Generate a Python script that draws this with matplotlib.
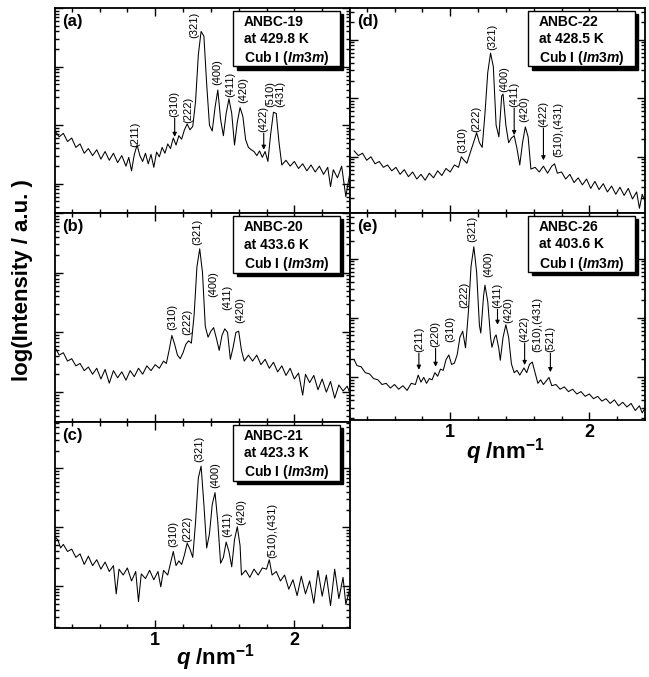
#!/usr/bin/env python

import numpy as np
import matplotlib
matplotlib.use('Agg')
import matplotlib.pyplot as plt
from matplotlib.patches import Rectangle

plt.rcParams['font.family'] = ['Liberation Sans', 'DejaVu Sans']
plt.rcParams['mathtext.fontset'] = 'custom'
plt.rcParams['mathtext.rm'] = 'Liberation Sans:bold'
plt.rcParams['mathtext.bf'] = 'Liberation Sans:bold'
plt.rcParams['mathtext.it'] = 'Liberation Sans:italic:bold'

q_a = [0.28, 0.31, 0.34, 0.37, 0.40, 0.43, 0.46, 0.49, 0.52, 0.55, 0.58, 0.61, 0.64, 0.67, 0.70,
       0.73, 0.76, 0.79, 0.81, 0.83, 0.85, 0.87, 0.89, 0.91, 0.93, 0.95, 0.97, 0.99, 1.01, 1.03,
       1.05, 1.07, 1.09, 1.11, 1.13, 1.15, 1.17, 1.19, 1.21, 1.23, 1.25, 1.27, 1.29, 1.31, 1.33,
       1.35, 1.37, 1.39, 1.41, 1.43, 1.45, 1.47, 1.49, 1.51, 1.53, 1.55, 1.57, 1.59, 1.61, 1.63,
       1.65, 1.67, 1.69, 1.71, 1.73, 1.75, 1.77, 1.79, 1.81, 1.83, 1.85, 1.87, 1.89, 1.91, 1.94,
       1.97, 2.00, 2.03, 2.06, 2.09, 2.12, 2.15, 2.18, 2.21, 2.24, 2.26, 2.28, 2.31, 2.34, 2.37, 2.40]
logI_a = [1.90, 1.80, 1.86, 1.72, 1.78, 1.62, 1.68, 1.52, 1.60, 1.48, 1.58, 1.42, 1.55, 1.40, 1.52,
          1.36, 1.48, 1.30, 1.45, 1.22, 1.50, 1.66, 1.48, 1.38, 1.52, 1.34, 1.50, 1.28, 1.54, 1.46,
          1.62, 1.52, 1.68, 1.60, 1.78, 1.66, 1.82, 1.76, 1.92, 2.02, 1.92, 1.98, 2.40, 3.20, 3.60,
          3.52, 2.70, 2.00, 1.90, 2.30, 2.60, 2.10, 1.82, 2.20, 2.45, 2.20, 1.66, 2.05, 2.30, 2.15,
          1.75, 1.62, 1.58, 1.55, 1.48, 1.56, 1.45, 1.55, 1.38, 1.85, 2.22, 2.20, 1.70, 1.32, 1.40,
          1.30, 1.38, 1.26, 1.34, 1.22, 1.32, 1.20, 1.30, 1.16, 1.28, 0.95, 1.24, 1.10, 1.30, 0.78, 1.20]

q_b = [0.28, 0.31, 0.34, 0.37, 0.40, 0.43, 0.46, 0.49, 0.52, 0.55, 0.58, 0.61, 0.64, 0.67, 0.70,
       0.73, 0.76, 0.79, 0.82, 0.85, 0.88, 0.91, 0.94, 0.97, 1.00, 1.03, 1.06, 1.08, 1.10, 1.12,
       1.14, 1.16, 1.18, 1.20, 1.22, 1.24, 1.26, 1.28, 1.30, 1.32, 1.34, 1.36, 1.38, 1.40, 1.42,
       1.44, 1.46, 1.48, 1.50, 1.52, 1.54, 1.56, 1.58, 1.60, 1.62, 1.64, 1.67, 1.70, 1.73, 1.76,
       1.79, 1.82, 1.85, 1.88, 1.91, 1.94, 1.97, 2.00, 2.03, 2.06, 2.08, 2.11, 2.14, 2.17, 2.20,
       2.23, 2.26, 2.29, 2.32, 2.35, 2.38, 2.40]
logI_b = [1.75, 1.62, 1.66, 1.52, 1.56, 1.44, 1.48, 1.36, 1.42, 1.30, 1.40, 1.22, 1.38, 1.15, 1.36,
          1.24, 1.34, 1.20, 1.36, 1.26, 1.40, 1.30, 1.44, 1.36, 1.46, 1.40, 1.52, 1.48, 1.70, 1.95,
          1.80, 1.62, 1.56, 1.66, 1.80, 1.86, 1.82, 2.30, 3.10, 3.40, 3.00, 2.10, 1.92, 2.02, 2.08,
          1.90, 1.70, 1.95, 2.06, 2.00, 1.55, 1.75, 2.00, 2.02, 1.70, 1.52, 1.62, 1.52, 1.62, 1.46,
          1.55, 1.40, 1.50, 1.34, 1.44, 1.28, 1.40, 1.22, 1.32, 0.95, 1.30, 1.16, 1.28, 1.04, 1.22,
          1.00, 1.18, 0.90, 1.12, 1.02, 1.10, 0.98]

q_c = [0.28, 0.30, 0.32, 0.34, 0.37, 0.40, 0.43, 0.46, 0.49, 0.52, 0.55, 0.58, 0.61, 0.64, 0.67,
       0.70, 0.72, 0.74, 0.77, 0.80, 0.83, 0.86, 0.88, 0.90, 0.93, 0.96, 0.99, 1.02, 1.04, 1.06,
       1.09, 1.11, 1.13, 1.15, 1.17, 1.19, 1.21, 1.23, 1.25, 1.27, 1.29, 1.31, 1.33, 1.35, 1.37,
       1.39, 1.41, 1.43, 1.45, 1.47, 1.49, 1.51, 1.53, 1.55, 1.57, 1.59, 1.61, 1.62, 1.65, 1.68,
       1.71, 1.74, 1.77, 1.80, 1.82, 1.84, 1.87, 1.90, 1.93, 1.96, 1.99, 2.02, 2.05, 2.08, 2.11,
       2.14, 2.17, 2.20, 2.23, 2.26, 2.29, 2.32, 2.35, 2.37, 2.40]
logI_c = [2.05, 2.00, 1.86, 1.92, 1.80, 1.84, 1.70, 1.76, 1.58, 1.72, 1.56, 1.66, 1.50, 1.62, 1.46,
          1.56, 1.08, 1.50, 1.40, 1.52, 1.30, 1.46, 0.95, 1.42, 1.34, 1.48, 1.32, 1.46, 1.20, 1.48,
          1.40, 1.60, 1.80, 1.56, 1.64, 1.58, 1.74, 1.94, 1.84, 1.70, 2.30, 3.05, 3.25, 2.60, 1.86,
          2.10, 2.60, 2.80, 2.30, 1.60, 1.70, 1.96, 1.80, 1.54, 2.00, 2.22, 1.90, 1.40, 1.48, 1.36,
          1.50, 1.40, 1.52, 1.50, 1.66, 1.40, 1.46, 1.30, 1.40, 1.16, 1.32, 1.05, 1.38, 1.08, 1.30,
          0.92, 1.48, 1.04, 1.40, 0.88, 1.50, 1.00, 1.36, 0.90, 1.18]

q_d = [0.31, 0.34, 0.37, 0.40, 0.43, 0.46, 0.49, 0.52, 0.55, 0.58, 0.61, 0.64, 0.67, 0.70, 0.73,
       0.76, 0.79, 0.82, 0.85, 0.88, 0.91, 0.94, 0.97, 1.00, 1.03, 1.06, 1.08, 1.10, 1.12, 1.14,
       1.17, 1.19, 1.21, 1.23, 1.25, 1.27, 1.29, 1.31, 1.33, 1.35, 1.37, 1.38, 1.40, 1.42, 1.44,
       1.46, 1.48, 1.50, 1.52, 1.54, 1.56, 1.58, 1.61, 1.64, 1.67, 1.70, 1.73, 1.75, 1.77, 1.80,
       1.83, 1.86, 1.89, 1.92, 1.95, 1.98, 2.01, 2.04, 2.07, 2.10, 2.13, 2.16, 2.19, 2.22, 2.25,
       2.28, 2.31, 2.34, 2.36, 2.38, 2.40]
logI_d = [1.56, 1.48, 1.52, 1.40, 1.46, 1.34, 1.38, 1.28, 1.32, 1.22, 1.28, 1.16, 1.24, 1.12, 1.20,
          1.08, 1.16, 1.06, 1.18, 1.10, 1.22, 1.14, 1.26, 1.20, 1.32, 1.28, 1.46, 1.40, 1.35, 1.50,
          1.72, 1.87, 1.70, 1.62, 2.20, 2.90, 3.23, 3.00, 2.00, 1.80, 2.50, 2.53, 2.00, 1.70, 1.78,
          1.82, 1.60, 1.32, 1.70, 1.97, 1.80, 1.25, 1.28, 1.20, 1.30, 1.18, 1.30, 1.34, 1.18, 1.20,
          1.08, 1.16, 1.02, 1.10, 0.98, 1.08, 0.92, 1.04, 0.90, 1.00, 0.86, 0.96, 0.82, 0.94, 0.80,
          0.92, 0.74, 0.86, 0.58, 0.82, 0.70]

q_e = [0.31, 0.33, 0.36, 0.39, 0.42, 0.45, 0.48, 0.51, 0.54, 0.57, 0.60, 0.63, 0.66, 0.69, 0.72,
       0.75, 0.77, 0.79, 0.81, 0.83, 0.85, 0.87, 0.89, 0.91, 0.93, 0.95, 0.97, 0.99, 1.01, 1.03,
       1.05, 1.07, 1.09, 1.11, 1.13, 1.15, 1.17, 1.19, 1.21, 1.22, 1.24, 1.25, 1.27, 1.29, 1.30,
       1.32, 1.33, 1.35, 1.36, 1.38, 1.40, 1.42, 1.44, 1.46, 1.48, 1.50, 1.53, 1.55, 1.57, 1.59,
       1.61, 1.63, 1.65, 1.67, 1.69, 1.71, 1.73, 1.76, 1.79, 1.82, 1.85, 1.88, 1.91, 1.94, 1.97,
       2.00, 2.03, 2.06, 2.09, 2.12, 2.15, 2.18, 2.21, 2.24, 2.27, 2.30, 2.33, 2.36, 2.38, 2.40]
logI_e = [1.52, 1.42, 1.40, 1.30, 1.28, 1.20, 1.18, 1.10, 1.12, 1.04, 1.10, 1.02, 1.08, 1.00, 1.12,
          1.10, 1.26, 1.14, 1.22, 1.12, 1.20, 1.18, 1.30, 1.24, 1.36, 1.34, 1.52, 1.60, 1.44, 1.46,
          1.60, 1.90, 2.00, 1.72, 2.30, 3.10, 3.43, 3.00, 2.10, 1.97, 2.60, 2.78, 2.50, 1.90, 1.73,
          1.90, 1.94, 1.70, 1.51, 1.90, 2.11, 1.90, 1.45, 1.30, 1.34, 1.26, 1.38, 1.30, 1.44, 1.48,
          1.30, 1.12, 1.18, 1.10, 1.16, 1.22, 1.08, 1.10, 1.02, 1.06, 0.98, 1.02, 0.94, 0.98, 0.90,
          0.94, 0.86, 0.90, 0.82, 0.86, 0.78, 0.84, 0.74, 0.80, 0.72, 0.78, 0.66, 0.74, 0.62, 0.70]

# peak labels: (text, q, log position of label bottom, arrow tip or None)
labels_a = [('(211)', 0.86, 1.63, None), ('(310)', 1.14, 2.14, 1.80), ('(222)', 1.24, 2.04, None),
            ('(321)', 1.28, 3.49, None), ('(400)', 1.445, 2.69, None), ('(411)', 1.54, 2.48, None),
            ('(420)', 1.63, 2.38, None), ('(422)', 1.78, 1.88, 1.58), ('(510)', 1.83, 2.31, None),
            ('(431)', 1.90, 2.31, None)]
labels_b = [('(310)', 1.12, 2.04, None), ('(222)', 1.23, 1.96, None), ('(321)', 1.30, 3.46, None),
            ('(400)', 1.42, 2.59, None), ('(411)', 1.52, 2.38, None), ('(420)', 1.61, 2.16, None)]
labels_c = [('(310)', 1.13, 1.88, None), ('(222)', 1.23, 1.96, None), ('(321)', 1.32, 3.32, None),
            ('(400)', 1.43, 2.88, None), ('(411)', 1.52, 2.05, None), ('(420)', 1.62, 2.25, None),
            ('(510),(431)', 1.84, 1.69, None)]
labels_d = [('(310)', 1.085, 1.52, None), ('(222)', 1.19, 1.88, None), ('(321)', 1.30, 3.28, None),
            ('(400)', 1.39, 2.57, None), ('(411)', 1.46, 2.31, 1.83), ('(420)', 1.535, 2.05, None),
            ('(422)', 1.67, 1.97, 1.40), ('(510),(431)', 1.78, 1.46, None)]
labels_e = [('(211)', 0.775, 1.65, 1.35), ('(220)', 0.895, 1.73, 1.40), ('(310)', 1.0, 1.82, None),
            ('(222)', 1.10, 2.39, None), ('(321)', 1.16, 3.51, None), ('(400)', 1.275, 2.92, None),
            ('(411)', 1.34, 2.39, 2.11), ('(420)', 1.415, 2.14, None), ('(422)', 1.535, 1.82, 1.43),
            ('(510),(431)', 1.625, 1.65, None), ('(521)', 1.72, 1.65, 1.31)]

samples = ['ANBC-19', 'ANBC-20', 'ANBC-21', 'ANBC-22', 'ANBC-26']
temps = ['429.8', '433.6', '423.3', '428.5', '403.6']
tags = ['(a)', '(b)', '(c)', '(d)', '(e)']

# ======================== layout ========================
W, H = 649, 677
fig = plt.figure(figsize=(W / 100, H / 100), dpi=100)

def px_axes(x0, y0, x1, y1):
    return fig.add_axes([x0 / W, 1 - y1 / H, (x1 - x0) / W, (y1 - y0) / H])

panels = [
    (px_axes(55, 8, 350, 213), q_a, logI_a, labels_a, 0.50, False),
    (px_axes(55, 213, 350, 422), q_b, logI_b, labels_b, 0.50, False),
    (px_axes(55, 422, 350, 628), q_c, logI_c, labels_c, 0.29, True),
    (px_axes(350, 8, 645, 213), q_d, logI_d, labels_d, 0.04, False),
    (px_axes(350, 213, 645, 420), q_e, logI_e, labels_e, 0.27, True),
]

for i, (ax, q, li, labs, ylo, show_x) in enumerate(panels):
    off = ylo - 0.5
    ax.plot(q, 10 ** (np.array(li) + off), color='k', lw=0.75)
    ax.set_yscale('log')
    ax.set_xlim(0.28, 2.40)
    ax.set_ylim(10 ** ylo, 10 ** (ylo + 3.5))
    ax.set_xticks([1, 2])
    ax.set_xticks(np.arange(0.4, 2.4, 0.2), minor=True)
    ax.tick_params(which='both', direction='in', top=True, right=True, width=1.0)
    ax.tick_params(which='major', length=6)
    ax.tick_params(which='minor', length=3)
    ax.tick_params(axis='y', which='both', labelleft=False)
    ax.yaxis.set_minor_formatter(plt.NullFormatter())
    if show_x:
        ax.tick_params(axis='x', labelsize=13, pad=3)
        for t in ax.get_xticklabels():
            t.set_fontweight('bold')
    else:
        ax.tick_params(axis='x', labelbottom=False)
    for s in ax.spines.values():
        s.set_linewidth(1.3)

    # panel tag
    ax.text(0.025, 0.97, tags[i], transform=ax.transAxes, fontsize=12,
            fontweight='bold', ha='left', va='top')

    # info box with drop shadow
    bx0, by0, bx1, by1 = 0.605, 0.715, 0.965, 0.985
    ax.add_patch(Rectangle((bx0 + 0.012, by0 - 0.016), bx1 - bx0, by1 - by0,
                           transform=ax.transAxes, fc='k', ec='k', zorder=4))
    ax.add_patch(Rectangle((bx0, by0), bx1 - bx0, by1 - by0, transform=ax.transAxes,
                           fc='white', ec='k', lw=1.0, zorder=5))
    lines = [samples[i], 'at ' + temps[i] + ' K', r'Cub I ($Im3m$)']
    for k, txt in enumerate(lines):
        ax.text(bx0 + 0.035, by1 - 0.02 - k * 0.083, txt, transform=ax.transAxes,
                fontsize=10, fontweight='bold', ha='left', va='top', zorder=6)

    # peak labels
    for txt, qp, yb, tip in labs:
        ax.text(qp, 10 ** (yb + off), txt, rotation=90, ha='center', va='bottom',
                fontsize=8, zorder=3)
        if tip is not None:
            ax.annotate('', xy=(qp, 10 ** (tip + off)), xytext=(qp, 10 ** (yb + off - 0.02)),
                        arrowprops=dict(arrowstyle='-|>', color='k', lw=0.8,
                                        mutation_scale=6, shrinkA=0, shrinkB=0))

fig.text(0.034, 0.586, 'log(Intensity / a.u. )', rotation=90, fontsize=16,
         fontweight='bold', ha='center', va='center')
fig.text(215 / W, 1 - 658 / H, r'$q$ /nm$^{-1}$', fontsize=16, fontweight='bold',
         ha='center', va='center')
fig.text(505 / W, 1 - 452 / H, r'$q$ /nm$^{-1}$', fontsize=16, fontweight='bold',
         ha='center', va='center')

fig.savefig('out.png', dpi=100)
